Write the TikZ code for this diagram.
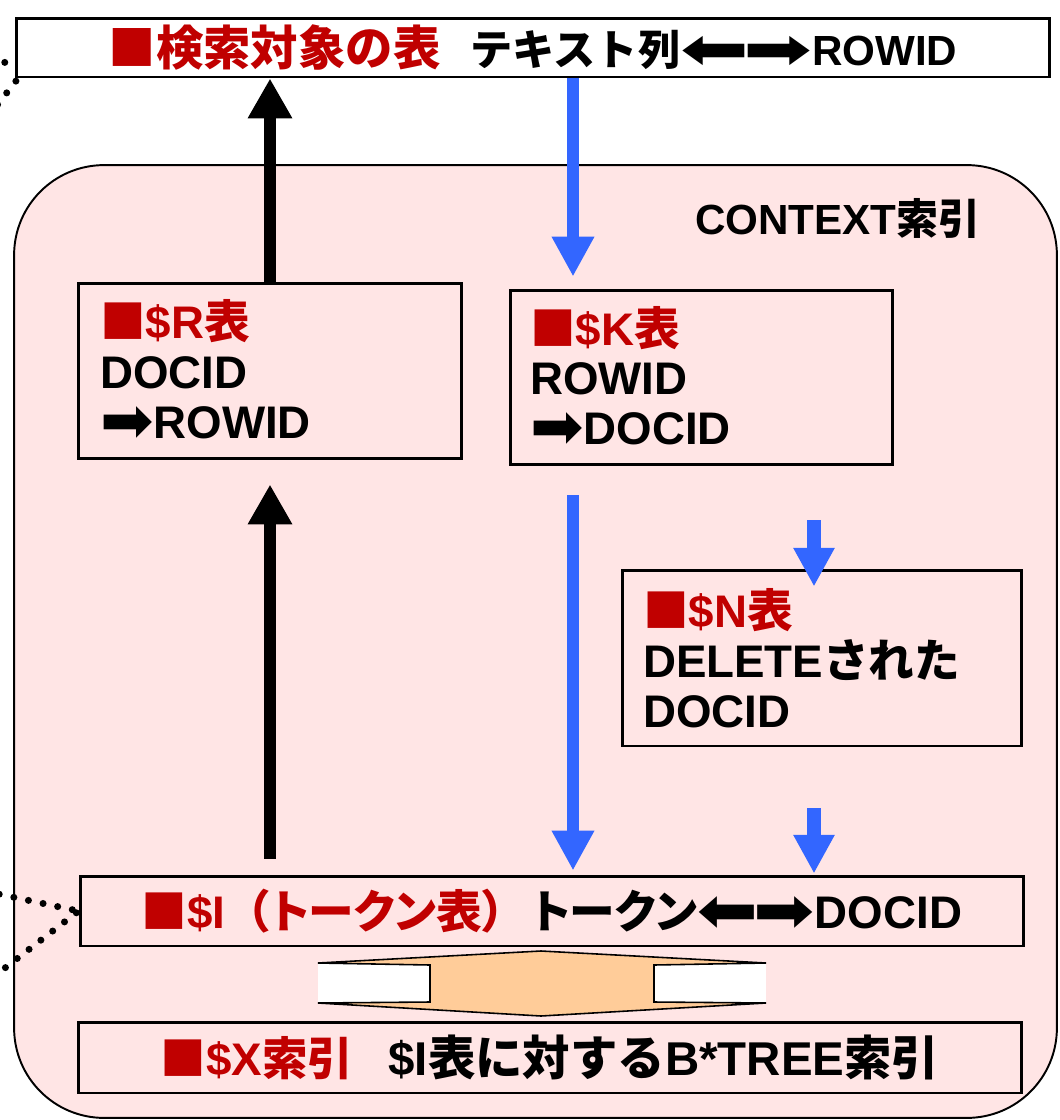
\documentclass[tikz,border=0pt]{standalone}
\usepackage{fontspec}
\usepackage{graphicx}
\setmainfont{Liberation Sans}
\newfontfamily\jp{Noto Sans CJK JP}
\newfontfamily\jpp{Noto Sans CJK JP}[CharacterWidth=AlternateProportional]
\newfontfamily\dv{DejaVu Sans}
\usetikzlibrary{arrows.meta,calc}
\definecolor{redt}{HTML}{C00000}
\definecolor{bluea}{HTML}{3366FF}
\definecolor{pinkbg}{HTML}{FFE5E5}
\definecolor{orangef}{HTML}{FFCC99}
\newcommand{\rarr}[1][1.4]{\raisebox{-0.09em}{\scalebox{#1}[1.4]{\dv\mdseries ➡}}}
\newcommand{\larr}[1][1.4]{\raisebox{-0.09em}{\reflectbox{\scalebox{#1}[1.4]{\dv\mdseries ➡}}}}
\newcommand{\J}[1]{{\jp #1}}
\newcommand{\JP}[1]{{\jpp #1}}
\tikzset{
  tblbox/.style={draw=black, line width=1.7pt, fill=pinkbg, align=left, inner ysep=0pt,
    font=\fontsize{26}{28.3}\selectfont\bfseries},
  linebox/.style={draw=black, line width=1.7pt, inner sep=0pt,
    font=\fontsize{26}{28.3}\selectfont\bfseries},
  outerbox/.style={draw=black, line width=1.1pt, fill=pinkbg, rounded corners=1.8cm, inner sep=0pt},
  blackup/.style={draw=black, line width=6.8pt, -{Triangle[width=23.8pt,length=22.7pt]}},
  bluebig/.style={draw=bluea, line width=6.8pt, -{Triangle[width=22.7pt,length=22.7pt]}},
  bluesmall/.style={draw=bluea, line width=7.9pt, -{Triangle[width=22pt,length=22pt]}},
  dotline/.style={draw=black, line width=4pt, line cap=round, dash pattern=on 0pt off 8.5pt},
  updown/.style={draw=black, line width=0.9pt, fill=orangef, line join=miter},
}
\begin{document}
\begin{tikzpicture}[x=0.02cm, y=-0.02cm]
\useasboundingbox (0,0) rectangle (1060,1120);
\clip (0,0) rectangle (1060,1120);
\fill[white] (0,0) rectangle (1060,1120);

% outer CONTEXT index region
\node[outerbox, minimum width=20.86cm, minimum height=19.06cm] (ctx) at (535.5,641.5) {};
\node[font=\fontsize{24}{24}\selectfont\bfseries, inner sep=0pt] (ctxlabel) at (838,218) {CONTEXT\J{索引}};

% top table
\node[linebox, fill=white, minimum width=20.66cm, minimum height=1.18cm] (top) at (533,47.5)
  {\textcolor{redt}{\fontsize{27}{28}\selectfont\J{■検索対象の表}}\hspace{0.6cm}\fontsize{24}{28}\selectfont\J{テキスト列}\larr[1.95]\hspace{-0.12cm}\rarr[1.95]ROWID};

% $R, $K, $N tables
\node[tblbox, inner xsep=0.44cm, text width=6.8cm, minimum height=3.52cm] (R) at (270,371)
  {\textcolor{redt}{\J{■}\$R\J{表}}\\DOCID\\\rarr ROWID};
\node[tblbox, inner xsep=0.40cm, text width=6.86cm, minimum height=3.5cm] (K) at (701.5,377.5)
  {\textcolor{redt}{\J{■}\$K\J{表}}\\ROWID\\\rarr DOCID};
\node[tblbox, inner xsep=0.42cm, text width=7.16cm, minimum height=3.52cm] (N) at (822,658)
  {\textcolor{redt}{\J{■}\$N\J{表}}\\DELETE\J{された}\\DOCID};

% $I and $X
\node[linebox, fill=pinkbg, minimum width=18.88cm, minimum height=1.4cm] (I) at (552,911)
  {\textcolor{redt}{\J{■}\$I\J{（}\JP{トークン表）}}\hspace{0.55cm}\JP{トークン}\larr[1.6]\hspace{-0.1cm}\rarr[1.6]DOCID};
\node[linebox, fill=pinkbg, minimum width=18.88cm, minimum height=1.42cm] (X) at (550,1057.5)
  {\textcolor{redt}{\J{■}\$X\J{索引}}\hspace{0.7cm}{\fontsize{27}{28}\selectfont\$I\J{表に対する}B*TREE\J{索引}}};

% up-down block arrow between $I and $X
\fill[white] (318,964) rectangle (430,1002);
\fill[white] (654,964) rectangle (766,1002);
\path[updown] (318,963) -- (541,951) -- (766,963) -- (654,965) -- (654,1002) -- (766,1003)
  -- (541,1016) -- (318,1003) -- (430,1002) -- (430,965) -- cycle;

% coordinates for arrow columns
\coordinate (bx) at (573,0);
\coordinate (sx) at (814,0);

% black arrows
\draw[blackup] (R.north) -- (R.north |- top.south);
\draw[blackup] ($(R.south |- I.north)+(0,-16)$) -- ($(R.south)+(0,24)$);

% blue arrows
\draw[bluebig] (top.south -| bx) -- ($(K.north -| bx)+(0,-12)$);
\draw[bluebig] ($(K.south -| bx)+(0,29)$) -- ($(I.north -| bx)+(0,-4)$);
\draw[bluesmall] ($(K.south -| sx)+(0,54)$) -- ($(N.north -| sx)+(0,18)$);
\draw[bluesmall] ($(N.south -| sx)+(0,61)$) -- ($(I.north -| sx)+(0,-1)$);

% dotted leader lines
\coordinate (dA1) at (-40,64);
\coordinate (dA2) at (16,62);
\coordinate (dB1) at (-30,140);
\coordinate (dB2) at (23,72);
\coordinate (dC1) at (-30,888);
\coordinate (dD1) at (-30,995);
\draw[dotline] (dA1) -- (dA2);
\draw[dotline] (dB1) -- (dB2);
\draw[dotline] (dC1) -- (I.west);
\draw[dotline] (dD1) -- (I.west);
\end{tikzpicture}
\end{document}
